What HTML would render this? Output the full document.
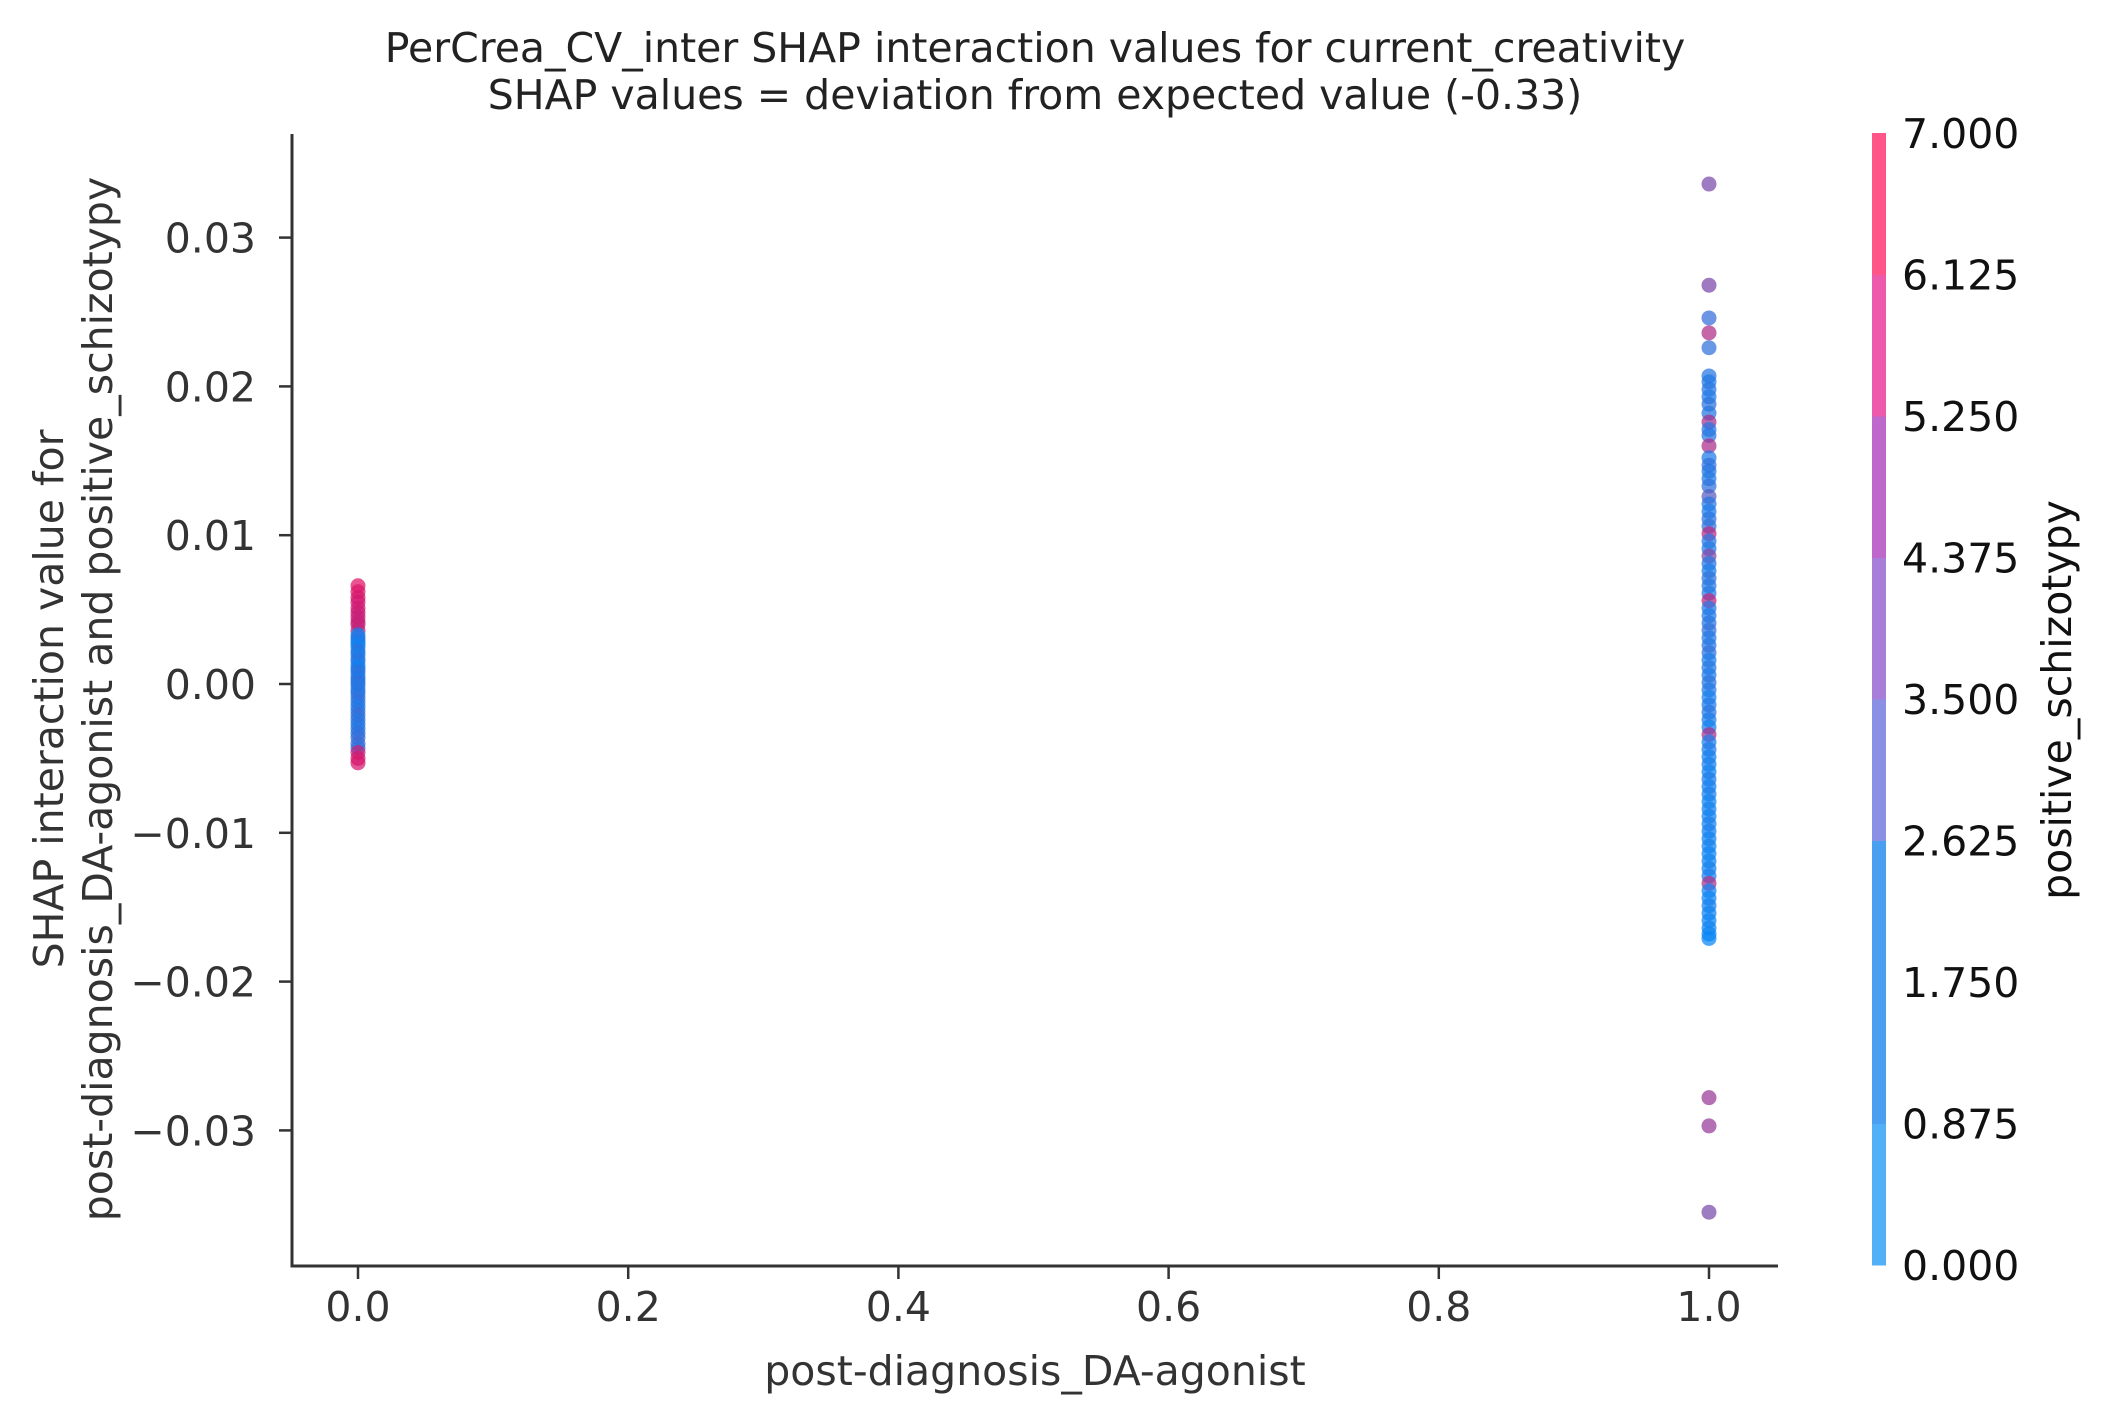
<!DOCTYPE html>
<html><head><meta charset="utf-8"><style>
body{margin:0;background:#fff}
svg text{font-family:"DejaVu Sans","Liberation Sans",sans-serif}
</style></head><body>
<svg id="chart" width="2107" height="1422" xmlns="http://www.w3.org/2000/svg">
<g id="marks"></g>
<g id="axes"></g>
<g id="cbar"></g>
</svg>
<script>
const xTicks=[0.0,0.2,0.4,0.6,0.8,1.0];
const yTicks=[-0.03,-0.02,-0.01,0.00,0.01,0.02,0.03];
const cbTicks=["0.000","0.875","1.750","2.625","3.500","4.375","5.250","6.125","7.000"];
// group x=0: shap values and feature values
const y0=[0.0066,0.0062,0.0058,0.0055,0.0051,0.0048,0.0045,0.0042,0.0040,0.0036,0.0033,0.0031,0.0029,0.0027,0.0025,0.0022,0.0020,0.0017,0.0015,0.0012,0.0010,0.0008,0.0005,0.0003,0.0001,-0.0001,-0.0004,-0.0006,-0.0009,-0.0012,-0.0015,-0.0018,-0.0021,-0.0024,-0.0027,-0.0030,-0.0033,-0.0036,-0.0040,-0.0043,-0.0046,-0.0050,-0.0053];
const c0=[6.2,6.0,5.9,5.8,5.7,5.6,5.5,5.4,5.5,5.3,0.5,0.8,1.0,0.6,0.4,1.2,0.7,0.9,1.1,0.5,0.6,1.3,1.0,0.8,1.4,0.9,1.1,1.0,1.2,1.3,0.8,1.1,1.5,1.0,1.2,0.9,1.3,1.4,1.6,1.2,5.5,5.8,5.9];
// group x=1
const y1=[0.0336,0.0268,0.0246,0.0236,0.0226,0.0207,0.0203,0.0198,0.0193,0.0188,0.0182,0.0176,0.0171,0.0167,0.0160,0.0152,0.0147,0.0143,0.0138,0.0133,0.0126,0.0121,0.0116,0.0111,0.0106,0.0101,0.0096,0.0091,0.0086,0.0081,0.0076,0.0071,0.0066,0.0061,0.0056,0.0051,0.0046,0.0041,0.0036,0.0031,0.0026,0.0021,0.0016,0.0011,0.0006,0.0001,-0.0004,-0.0009,-0.0014,-0.0019,-0.0024,-0.0029,-0.0034,-0.0039,-0.0044,-0.0049,-0.0054,-0.0059,-0.0064,-0.0069,-0.0074,-0.0079,-0.0084,-0.0089,-0.0094,-0.0099,-0.0104,-0.0109,-0.0114,-0.0119,-0.0124,-0.0129,-0.0134,-0.0139,-0.0144,-0.0149,-0.0154,-0.0159,-0.0164,-0.0168,-0.0171,-0.0278,-0.0297,-0.0355];
const c1=[3.3,3.4,1.4,4.8,1.3,1.0,0.9,1.1,0.8,1.2,1.0,4.5,0.9,1.1,4.7,0.8,1.3,1.0,0.9,1.2,2.4,1.0,0.8,1.1,1.2,5.0,1.0,0.9,3.5,1.0,0.7,1.2,1.0,0.9,5.2,1.0,0.8,1.1,1.3,0.9,1.0,1.2,0.7,1.0,0.8,1.1,0.9,0.6,0.8,1.0,0.7,0.5,4.5,0.6,0.8,0.5,0.6,0.4,0.7,0.5,0.6,0.4,0.5,0.4,0.6,0.5,0.4,0.5,0.3,0.4,0.5,0.6,4.6,0.4,0.3,0.5,0.4,0.3,0.4,0.3,0.2,4.2,4.1,3.3];

const NS='http://www.w3.org/2000/svg';
const L=292,R=1778,T=134,B=1266;
const X0=358,X1=1709;
const sx=v=>X0+(X1-X0)*v;
const Y0=684,PER=14880;
const sy=v=>Y0-v*PER;
const FS=41;
function col(v){const t=Math.max(0,Math.min(1,v/7));
 const a=[0,138,250],b=[255,0,82];
 return `rgb(${Math.round(a[0]+(b[0]-a[0])*t)},${Math.round(a[1]+(b[1]-a[1])*t)},${Math.round(a[2]+(b[2]-a[2])*t)})`;}
function mk(tag,at,p){const e=document.createElementNS(NS,tag);for(const k in at)e.setAttribute(k,at[k]);p.appendChild(e);return e;}
const marks=document.getElementById('marks');
function pts(xv,ys,cs){ys.forEach((y,i)=>{
 const c=mk('circle',{cx:sx(xv),cy:sy(y),r:7.5,fill:col(cs[i]),'fill-opacity':0.72},marks);
 
 });}
pts(0,y0,c0);pts(1,y1,c1);

const ax=document.getElementById('axes');
let e=mk('line',{x1:L,y1:T,x2:L,y2:B+1.5,stroke:'#333','stroke-width':3},ax);

e=mk('line',{x1:L-1.5,y1:B,x2:R,y2:B,stroke:'#333','stroke-width':3},ax);

xTicks.forEach(v=>{const x=sx(v);
 mk('line',{x1:x,y1:B,x2:x,y2:B+13,stroke:'#333','stroke-width':2.5},ax);
 const t=mk('text',{x:x,y:1321,'text-anchor':'middle','font-size':FS,fill:'#333'},ax);
 t.textContent=v.toFixed(1);
 });
yTicks.forEach(v=>{const y=sy(v);
 mk('line',{x1:L-13,y1:y,x2:L,y2:y,stroke:'#333','stroke-width':2.5},ax);
 const t=mk('text',{x:L-36,y:y+15,'text-anchor':'end','font-size':FS,fill:'#333'},ax);
 t.textContent=(v<0?'\u2212':'')+Math.abs(v).toFixed(2);
 });
let t=mk('text',{x:1035,y:1385,'text-anchor':'middle','font-size':FS,fill:'#333'},ax);
t.textContent='post-diagnosis_DA-agonist';
t=mk('text',{transform:'translate(63,699) rotate(-90)','text-anchor':'middle','font-size':FS,fill:'#333'},ax);
t.textContent='SHAP interaction value for';
t=mk('text',{transform:'translate(112,699) rotate(-90)','text-anchor':'middle','font-size':FS,fill:'#333'},ax);
t.textContent='post-diagnosis_DA-agonist and positive_schizotypy';
t=mk('text',{x:1035,y:62,'text-anchor':'middle','font-size':FS,fill:'#222'},ax);
t.textContent='PerCrea_CV_inter SHAP interaction values for current_creativity';
t=mk('text',{x:1035,y:109,'text-anchor':'middle','font-size':FS,fill:'#222'},ax);
t.textContent='SHAP values = deviation from expected value (-0.33)';

const cb=document.getElementById('cbar');
const segCols=['#52b0f7','#4a9ff1','#4a9ff1','#8a90e4','#a97ed8','#bf68cc','#ee5aab','#ff5588'];
const CT=133,CB=1265,CX=1872,CW=14,seg=(CB-CT)/8;
segCols.forEach((c,i)=>{const r=mk('rect',{x:CX,y:CB-(i+1)*seg,width:CW,height:seg+0.5,fill:c},cb);
 });
cbTicks.forEach((s,i)=>{const y=CB-i*seg;
 const tt=mk('text',{x:1902,y:y+15,'font-size':FS,fill:'#111'},cb);tt.textContent=s;
 });
t=mk('text',{transform:'translate(2071,700) rotate(-90)','text-anchor':'middle','font-size':FS,fill:'#111'},cb);
t.textContent='positive_schizotypy';
</script>
</body></html>
